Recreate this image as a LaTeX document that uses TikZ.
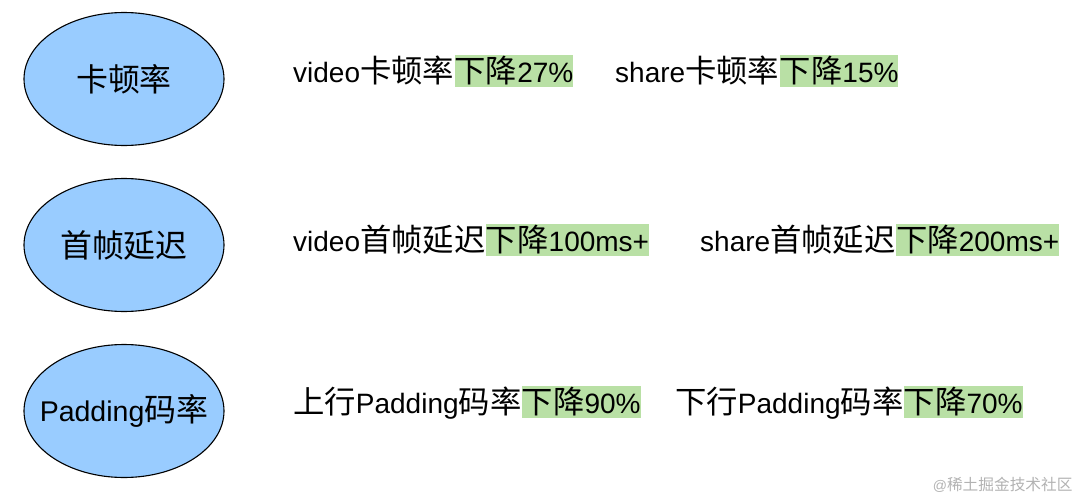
\documentclass[tikz,border=0pt]{standalone}
\usepackage{fontspec}
\setmainfont{Liberation Sans}
\newfontfamily\cjk[Scale=1.12]{Noto Sans CJK SC}
\usetikzlibrary{shapes.geometric,positioning}
\definecolor{metricblue}{RGB}{153,204,255}
\definecolor{hlgreen}{RGB}{185,224,165}
\tikzset{
  metric/.style={ellipse,draw=black,line width=1.1pt,fill=metricblue,
    minimum width=200pt,minimum height=133pt,inner sep=0pt,
    label={[font=\fontsize{28.5}{34}\selectfont]center:#1}},
  gain/.style={anchor=base west,inner sep=0pt,
    font=\fontsize{28}{34}\selectfont},
  hl/.style={gain,fill=hlgreen,text height=27pt,text depth=5pt}
}
\newcommand{\zh}[1]{{\cjk #1}}

\begin{document}
\begin{tikzpicture}[x=1pt,y=-1pt]
    \useasboundingbox (0,0) rectangle (1080,498);
    % metrics
    \node[metric={\zh{卡顿率}}] (stall) at (124,79) {};
    \node[metric={\zh{首帧延迟}}] (first) at (124,245) {};
    \node[metric={Padding\zh{码率}}] (pad) at (124,411) {};
    % stall
    \node[gain] (stallv) at (293,82) {video\zh{卡顿率}};
    \node[hl] (stallvd) at (stallv.base east) {\zh{下降}27\%};
    \node[gain] (stalls) at (615,82) {share\zh{卡顿率}};
    \node[hl] (stallsd) at (stalls.base east) {\zh{下降}15\%};
    % first frame
    \node[gain] (firstv) at (293,251) {video\zh{首帧延迟}};
    \node[hl] (firstvd) at (firstv.base east) {\zh{下降}100ms+};
    \node[gain] (firsts) at (700,251) {share\zh{首帧延迟}};
    \node[hl] (firstsd) at (firsts.base east) {\zh{下降}200ms+};
    % padding
    \node[gain] (padup) at (293,413) {\zh{上行}Padding\zh{码率}};
    \node[hl] (padupd) at (padup.base east) {\zh{下降}90\%};
    \node[gain] (paddn) at (675,413) {\zh{下行}Padding\zh{码率}};
    \node[hl] (paddnd) at (paddn.base east) {\zh{下降}70\%};
    % watermark
    \node[anchor=east,text=black!30,font=\fontsize{14}{16}\selectfont] (mark) at (1076,485) {@\zh{稀土掘金技术社区}};
\end{tikzpicture}
\end{document}
